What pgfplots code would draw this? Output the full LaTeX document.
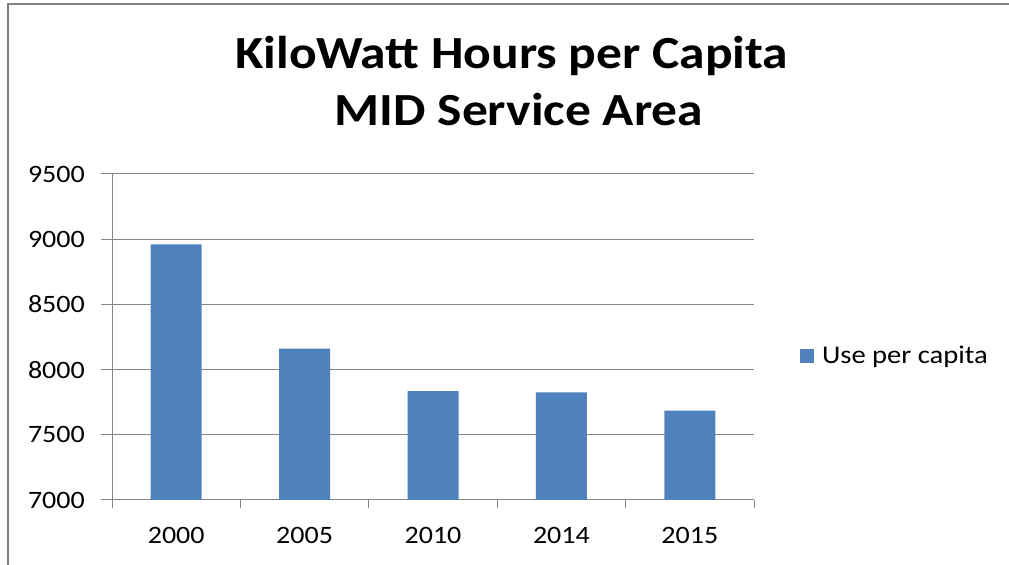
\documentclass[border=0pt]{standalone}
\usepackage{pgfplots}
\pgfplotsset{compat=1.18}
\usepackage{fontspec}
\setmainfont{Carlito}[FakeStretch=1.12]
\definecolor{barblue}{HTML}{4F81BD}
\definecolor{gridgray}{HTML}{868686}
\definecolor{framegray}{HTML}{808080}
\begin{document}
\begin{tikzpicture}[x=1bp,y=1bp]
\path[use as bounding box] (0,0) rectangle (1009,565);
\draw[framegray, line width=2bp] (8,0) -- (8,561) -- (1009,561);
\node[font=\fontsize{46bp}{54bp}\selectfont\bfseries, anchor=base, inner sep=0pt] at (512,496) {KiloWatt Hours per Capita};
\node[font=\fontsize{46bp}{54bp}\selectfont\bfseries, anchor=base, inner sep=0pt] at (519,439) {MID Service Area};
\begin{axis}[
  at={(112bp,65bp)}, anchor=south west,
  width=642bp, height=326bp, scale only axis,
  ybar, bar width=51bp,
  xmin=-0.5, xmax=4.5,
  ymin=7000, ymax=9500,
  ytick={7000,7500,8000,8500,9000,9500},
  xtick={0,1,2,3,4},
  xticklabels={2000,2005,2010,2014,2015},
  minor xtick={-0.5,0.5,1.5,2.5,3.5,4.5},
  major x tick style={draw=none},
  minor tick length=8bp,
  major tick length=11bp,
  tick align=outside,
  tick pos=left,
  axis x line*=bottom, axis y line*=left,
  axis line style={gridgray, line width=1bp},
  every tick/.style={gridgray, line width=1bp},
  ymajorgrids, grid style={gridgray, line width=1bp},
  /pgf/number format/1000 sep={},
  /pgf/number format/assume math mode=true,
  ticklabel style={font=\fontsize{25bp}{30bp}\selectfont, inner sep=0pt},
  yticklabel style={xshift=-16bp},
  xticklabel style={yshift=-16bp},
  legend style={draw=none, fill=none, inner sep=0pt, outer sep=0pt,
    at={(1.0717,0.443)}, anchor=west,
    font=\fontsize{25.5bp}{30bp}\selectfont,
    /tikz/every odd column/.append style={column sep=6bp}},
  legend image code/.code={\fill[barblue] (0bp,-7bp) rectangle (14bp,7bp);},
]
\addplot[fill=barblue, draw=none] coordinates {(0,8960) (1,8160) (2,7835) (3,7825) (4,7685)};
\addlegendentry{Use per capita}
\end{axis}
\end{tikzpicture}
\end{document}
